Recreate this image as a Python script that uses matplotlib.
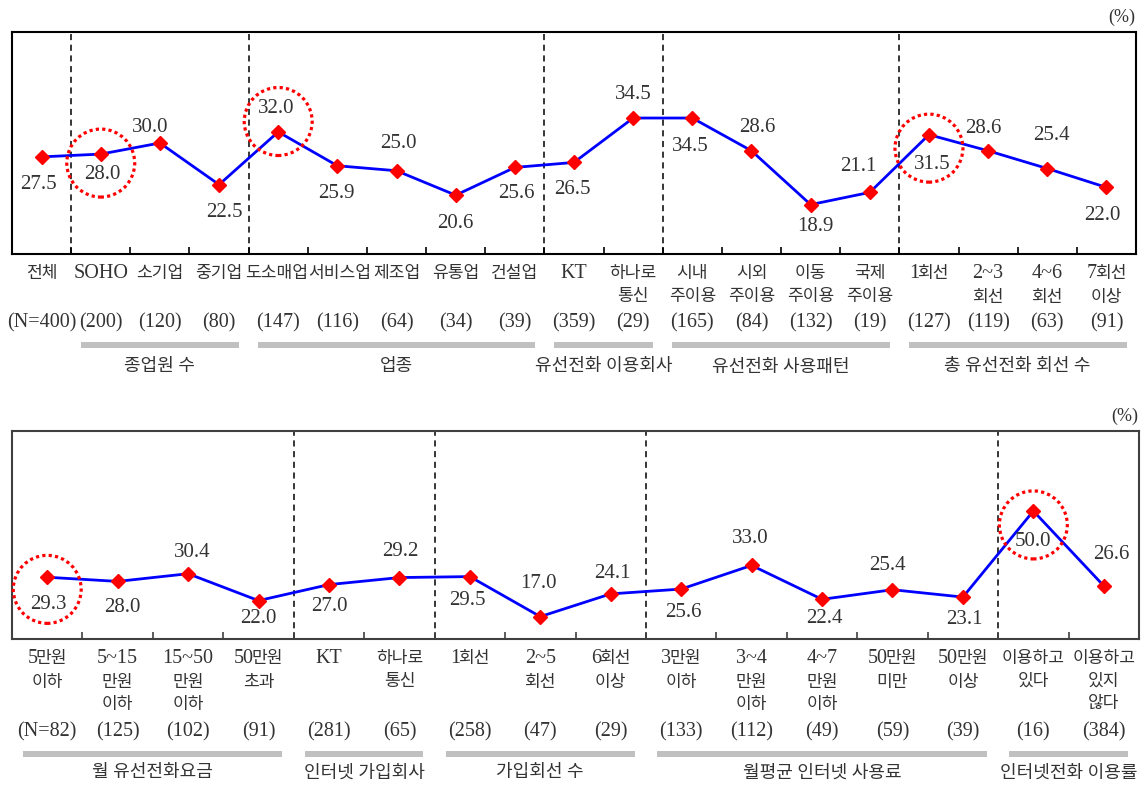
import matplotlib.pyplot as plt
import matplotlib.transforms as mtransforms
from matplotlib.patches import Circle
from matplotlib.offsetbox import TextArea, HPacker, VPacker, AnnotationBbox

LATIN = 'Liberation Serif'
HANGUL = 'Noto Sans CJK KR'
plt.rcParams['font.family'] = [LATIN, HANGUL]

TEXT = '#333333'
DPI = 100

# ---- 위 그래프: 업종/종업원/유선전화 이용 특성별 ----
top_labels = ['전체', 'SOHO', '소기업', '중기업', '도소매업', '서비스업', '제조업',
              '유통업', '건설업', 'KT', '하나로\n통신', '시내\n주이용', '시외\n주이용',
              '이동\n주이용', '국제\n주이용', '1회선', '2~3\n회선', '4~6\n회선', '7회선\n이상']
top_counts = ['(N=400)', '(200)', '(120)', '(80)', '(147)', '(116)', '(64)', '(34)',
              '(39)', '(359)', '(29)', '(165)', '(84)', '(132)', '(19)', '(127)',
              '(119)', '(63)', '(91)']
top_values = [27.5, 28.0, 30.0, 22.5, 32.0, 25.9, 25.0, 20.6, 25.6, 26.5, 34.5,
              34.5, 28.6, 18.9, 21.1, 31.5, 28.6, 25.4, 22.0]
top_groups = [('종업원 수', 1, 3), ('업종', 4, 8), ('유선전화 이용회사', 9, 10),
              ('유선전화 사용패턴', 11, 14), ('총 유선전화 회선 수', 15, 18)]
top_highlight = [1, 4, 15]

# ---- 아래 그래프: 요금/인터넷 이용 특성별 ----
bot_labels = ['5만원\n이하', '5~15\n만원\n이하', '15~50\n만원\n이하', '50만원\n초과', 'KT',
              '하나로\n통신', '1회선', '2~5\n회선', '6회선\n이상', '3만원\n이하',
              '3~4\n만원\n이하', '4~7\n만원\n이하', '50만원\n미만', '50만원\n이상',
              '이용하고\n있다', '이용하고\n있지\n않다']
bot_counts = ['(N=82)', '(125)', '(102)', '(91)', '(281)', '(65)', '(258)', '(47)',
              '(29)', '(133)', '(112)', '(49)', '(59)', '(39)', '(16)', '(384)']
bot_values = [29.3, 28.0, 30.4, 22.0, 27.0, 29.2, 29.5, 17.0, 24.1, 25.6, 33.0,
              22.4, 25.4, 23.1, 50.0, 26.6]
bot_groups = [('월 유선전화요금', 0, 3), ('인터넷 가입회사', 4, 5), ('가입회선 수', 6, 8),
              ('월평균 인터넷 사용료', 9, 13), ('인터넷전화 이용률', 14, 15)]
bot_highlight = [0, 14]

# 값 라벨 위치 (픽셀, dy>0 이면 아래쪽)
top_offsets = [(-3, 28), (2, 20), (-10, -15), (5, 28), (-2, -23), (-1, 28), (2, -27),
               (0, 28), (2, 26), (-2, 27), (0, -24), (-2, 28), (6, -23), (5, 22),
               (-11, -26), (3, 30), (-5, -22), (4, -33), (-4, 28)]
bot_offsets = [(1, 27), (5, 26), (4, -21), (0, 18), (0, 22), (1, -26), (-2, 24),
               (-2, -33), (2, -20), (2, 23), (-1, -27), (2, 19), (-5, -24), (1, 22),
               (0, 31), (8, -31)]
# 폭이 넓은 이웃 라벨끼리 살짝 벌림 (픽셀)
top_label_nudge = {4: -2, 5: 2}
bot_label_nudge = {}


def pt(px):
    return px * 72.0 / DPI


def is_hangul(ch):
    return '\uac00' <= ch <= '\ud7a3'


def label_box(text):
    # 한글은 고딕, 숫자/영문은 명조 크기로 섞어서 한 줄씩 조립
    rows = []
    for line in text.split('\n'):
        runs = []
        for ch in line:
            k = is_hangul(ch)
            if runs and runs[-1][0] == k:
                runs[-1][1] += ch
            else:
                runs.append([k, ch])
        parts = []
        for k, s in runs:
            props = dict(color=TEXT, family=HANGUL if k else LATIN,
                         fontsize=12.3 if k else 14.5)
            parts.append(TextArea(s, textprops=props))
        rows.append(HPacker(children=parts, align='baseline', pad=0, sep=-1.5))
    return VPacker(children=rows, align='center', pad=0, sep=3.3)


def draw_panel(ax, labels, counts, values, groups, highlight, offsets, nudge, ylim,
               spine_color, count_gap, bar_gap, group_gap):
    n = len(values)
    xs = list(range(n))
    ax.set_xlim(-0.5, n - 0.5)
    ax.set_ylim(*ylim)

    for s in ax.spines.values():
        s.set_color(spine_color)
        s.set_linewidth(1.5)
    ax.set_yticks([])
    ax.set_xticks([i + 0.5 for i in range(n - 1)])
    ax.tick_params(axis='x', direction='in', length=5, width=1.2,
                   color=spine_color, labelbottom=False)

    # 그룹 구분 점선
    for _, start, _ in groups:
        if start > 0:
            ax.axvline(start - 0.5, color='black', lw=1.1, ls=(0, (4, 3)), zorder=1)

    ax.plot(xs, values, color='#0000ff', lw=2, zorder=3)
    ax.plot(xs, values, ls='none', marker='D', ms=7, color='#ff0000', zorder=4)

    for x, v, (dx, dy) in zip(xs, values, offsets):
        ax.annotate(f'{v:.1f}', (x, v), xytext=(pt(dx), -pt(dy)),
                    textcoords='offset points', ha='center', va='center',
                    fontsize=15, color=TEXT, zorder=5)

    # 강조 원 (점선)
    fig = ax.figure
    for i in highlight:
        dy = offsets[i][1] * 0.45
        trans = (fig.dpi_scale_trans +
                 mtransforms.ScaledTranslation(xs[i], values[i], ax.transData))
        circ = Circle((0, -dy / DPI), 34 / DPI, transform=trans, fill=False,
                      ec='#ff0000', lw=2.3, ls=(0, (1, 1.0)), zorder=6, clip_on=False)
        ax.add_patch(circ)

    base = mtransforms.blended_transform_factory(ax.transData, ax.transAxes)
    for x, lab, cnt in zip(xs, labels, counts):
        ab = AnnotationBbox(label_box(lab), (x, 0), xycoords=base,
                            xybox=(pt(nudge.get(x, 0)), -pt(10)),
                            boxcoords='offset points', box_alignment=(0.5, 1),
                            frameon=False, pad=0, annotation_clip=False)
        ax.add_artist(ab)
        ax.annotate(cnt, (x, 0), xycoords=base, xytext=(0, -pt(count_gap)),
                    textcoords='offset points', ha='center', va='center',
                    fontsize=14.5, color=TEXT)

    bar_trans = mtransforms.offset_copy(base, fig=fig, y=-bar_gap, units='dots')
    for name, start, end in groups:
        x0, x1 = start - 0.5 + 0.16, end + 0.5 - 0.16
        ax.plot([x0, x1], [0, 0], transform=bar_trans, color='#c0c0c0', lw=pt(6),
                solid_capstyle='butt', clip_on=False)
        ax.annotate(name, ((x0 + x1) / 2, 0), xycoords=base,
                    xytext=(0, -pt(group_gap)), textcoords='offset points',
                    ha='center', va='center', fontsize=13, color=TEXT)

    ax.annotate('(%)', (1, 1), xycoords='axes fraction', xytext=(-pt(14), pt(15)),
                textcoords='offset points', ha='center', va='center',
                fontsize=13, color=TEXT)


fig = plt.figure(figsize=(11.44, 7.86), dpi=DPI)
W, H = 1144, 786
ax_top = fig.add_axes([12 / W, 1 - 254 / H, (1136 - 12) / W, (254 - 32) / H])
ax_bot = fig.add_axes([12 / W, 1 - 639 / H, (1139 - 12) / W, (639 - 431) / H])

draw_panel(ax_top, top_labels, top_counts, top_values, top_groups, top_highlight,
           top_offsets, top_label_nudge, (10, 50), 'black', 69, 91, 113)
draw_panel(ax_bot, bot_labels, bot_counts, bot_values, bot_groups, bot_highlight,
           bot_offsets, bot_label_nudge, (10, 75), '#404040', 93, 115, 134)

fig.savefig('out.png', dpi=DPI)
